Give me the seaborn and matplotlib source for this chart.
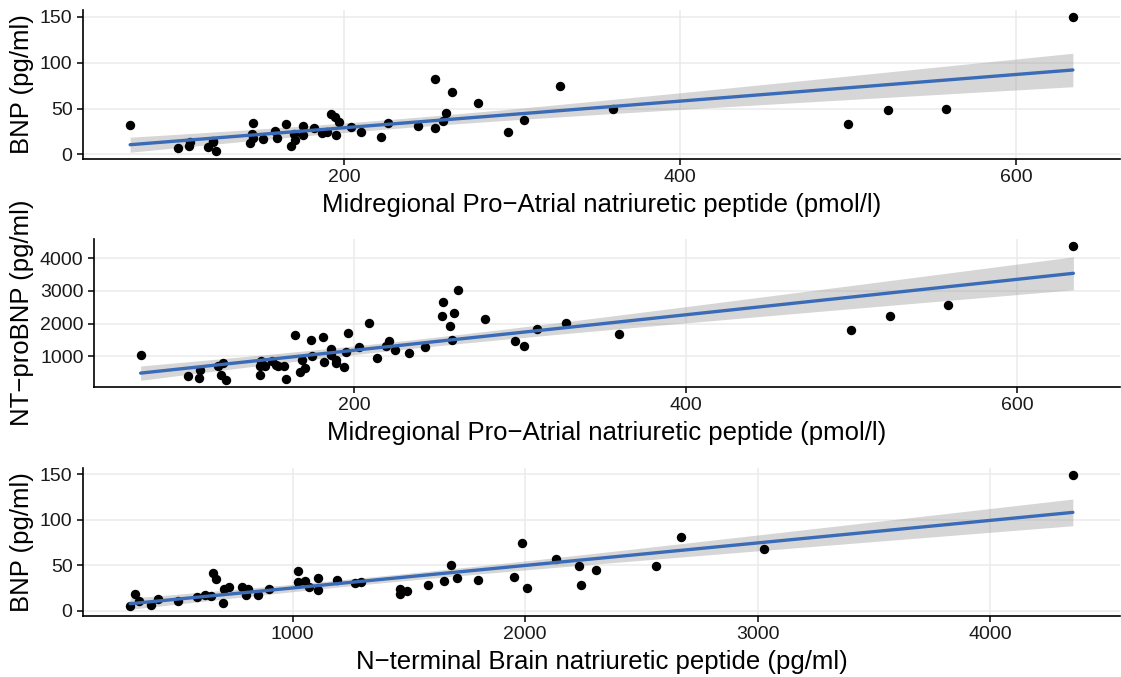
import matplotlib
matplotlib.use("Agg")
import matplotlib.pyplot as plt
import seaborn as sns
import numpy as np
import pandas as pd

# Panel 1: MR-proANP (pmol/l) vs BNP (pg/ml)
anp_1 = [72.6, 101, 107.5, 108, 119, 121.7, 123.7, 121.7, 145.5, 145, 144, 146,
         151.4, 159, 159.8, 165.3, 168.5, 170.9, 170.3, 175.6, 175.6, 182.2,
         186.7, 190, 192.1, 194.7, 197, 195, 204.3, 210, 221.6, 226.2, 244,
         254, 254, 264, 260.4, 259, 279.5, 297.7, 306.8, 328.5, 360, 499.8,
         523.7, 558.2, 633.6]
bnp_1 = [32.4, 6.5, 9.7, 14, 8.3, 15, 4.3, 13.4, 34.2, 22.3, 12.6, 18,
         17, 26, 17.7, 32.8, 9.7, 15.9, 22.3, 30.6, 21.3, 28.5,
         23.1, 24.8, 43.9, 40.3, 35.6, 21.3, 30.2, 24.2, 19.4, 33.9, 31.3,
         81.7, 28.5, 68.4, 44.7, 36.7, 56.5, 24.2, 37.4, 74.2, 50, 32.8,
         48.7, 49.3, 150]

# Panel 2: MR-proANP (pmol/l) vs NT-proBNP (pg/ml)
anp_2 = [71.5, 100.2, 106.8, 107.2, 118.2, 121.2, 120.2, 122.8, 143.3, 144.3,
         143.3, 146.3, 150.9, 153.3, 154.3, 157.7, 159.3, 164.8, 167.3, 170.3,
         168.7, 174.4, 174.7, 181.4, 182, 186.4, 186, 189.4, 189.4, 193.8, 195,
         196.4, 203.4, 209, 213.8, 220.9, 219.5, 225, 233.5, 243.1, 253.5,
         253.2, 260.2, 258.2, 259.2, 263, 279.2, 297, 302.5, 310.7, 327.7,
         359.8, 499.5, 523.4, 558.1, 633.7]
ntprobnp_2 = [1050, 394, 324, 597, 718, 800, 424, 290, 697, 849,
              415, 718, 849, 749, 718, 718, 315, 1636, 515, 648,
              900, 1485, 1021, 1588, 830, 1233, 1051, 800, 900, 679, 1121,
              1709, 1285, 2012, 951, 1475, 1324, 1182, 1103, 1285, 2667,
              2242, 2315, 1939, 1506, 3021, 2133, 1455, 1324, 1839, 2012,
              1679, 1809, 2233, 2567, 4375]

# Panel 3: NT-proBNP (pg/ml) vs BNP (pg/ml)
ntprobnp_3 = [301, 323, 341, 391, 420, 506, 587, 625, 649, 656, 671, 699, 706,
              725, 783, 800, 807, 850, 900, 1024, 1021, 1055, 1072, 1110, 1110,
              1189, 1269, 1295, 1462, 1462, 1492, 1584, 1649, 1681, 1709, 1799,
              1950, 1986, 2010, 2132, 2230, 2240, 2304, 2563, 2671, 3029, 4356]
bnp_3 = [4.7, 17.7, 10.1, 6.5, 13, 10.1, 14.9, 16.7, 15.6, 41.3, 34.8, 8.7,
         23.9, 26.4, 26.4, 16.7, 23.2, 16.7, 23.2, 43.8, 31.2, 33, 26.4, 35.5,
         22.8, 34, 30.4, 31.2, 23.9, 18.5, 21, 28.6, 32.3, 50.3, 35.5, 33.3,
         37, 74.6, 24.6, 56.5, 48.6, 28.6, 44.6, 49.3, 81.5, 68.1, 149.7]

label_anp = "Midregional Pro\u2212Atrial natriuretic peptide (pmol/l)"
label_bnp = "BNP (pg/ml)"
label_nt = "NT\u2212proBNP (pg/ml)"
label_nt_x = "N\u2212terminal Brain natriuretic peptide (pg/ml)"

sns.set_theme(style="white")
plt.rcParams["font.family"] = ["Liberation Sans", "DejaVu Sans"]
plt.rcParams["axes.unicode_minus"] = True

W, H = 1121, 677
fig = plt.figure(figsize=(W / 100, H / 100), dpi=100)


def panel(left, top, right, bottom):
    return fig.add_axes([left / W, 1 - bottom / H, (right - left) / W, (bottom - top) / H])


def t_crit(df):
    # two-sided 95% Student t quantile (Cornish-Fisher expansion)
    z = 1.959964
    return (z + (z**3 + z) / (4 * df) + (5 * z**5 + 16 * z**3 + 3 * z) / (96 * df**2)
            + (3 * z**7 + 19 * z**5 + 17 * z**3 - 15 * z) / (384 * df**3))


def linear_band(xs, ys, grid):
    # pointwise 95% confidence band of the OLS fit
    x = np.asarray(xs, float)
    y = np.asarray(ys, float)
    n = len(x)
    b1, b0 = np.polyfit(x, y, 1)
    resid = y - (b0 + b1 * x)
    s = np.sqrt(np.sum(resid**2) / (n - 2))
    sxx = np.sum((x - x.mean())**2)
    se = s * np.sqrt(1 / n + (grid - x.mean())**2 / sxx)
    fit = b0 + b1 * grid
    half = t_crit(n - 2) * se
    return fit - half, fit + half


panels = [
    (panel(83, 10, 1120, 159), anp_1, bnp_1, label_anp, label_bnp, [200, 400, 600], [0, 50, 100, 150]),
    (panel(94, 239, 1120, 387), anp_2, ntprobnp_2, label_anp, label_nt, [200, 400, 600], [1000, 2000, 3000, 4000]),
    (panel(83, 468, 1120, 616), ntprobnp_3, bnp_3, label_nt_x, label_bnp, [1000, 2000, 3000, 4000], [0, 50, 100, 150]),
]

for ax, xs, ys, xl, yl, xt, yt in panels:
    df = pd.DataFrame({"x": xs, "y": ys})
    sns.regplot(data=df, x="x", y="y", ax=ax, ci=None, truncate=True,
                scatter_kws=dict(color="black", s=46, linewidths=0, alpha=1, zorder=3),
                line_kws=dict(color="#3A6BB7", lw=2.4, zorder=4))
    grid = np.linspace(min(xs), max(xs), 200)
    lo, hi = linear_band(xs, ys, grid)
    ax.fill_between(grid, lo, hi, color="#999999", alpha=0.4, lw=0, zorder=2)
    ax.set_xticks(xt)
    ax.set_yticks(yt)
    ax.grid(True, color="#EBEBEB", lw=1.1, zorder=0)
    ax.set_axisbelow(True)
    for s in ["top", "right"]:
        ax.spines[s].set_visible(False)
    for s in ["left", "bottom"]:
        ax.spines[s].set_color("black")
        ax.spines[s].set_linewidth(1.2)
    ax.tick_params(axis="both", which="major", length=4.5, width=1.1, color="black",
                   labelsize=14, labelcolor="#1a1a1a", pad=3, left=True, bottom=True)
    ax.set_xlabel(xl, fontsize=18.5, color="black", labelpad=5)
    ax.set_ylabel(yl, fontsize=18.5, color="black", labelpad=4)

fig.savefig("out.png", dpi=100)
